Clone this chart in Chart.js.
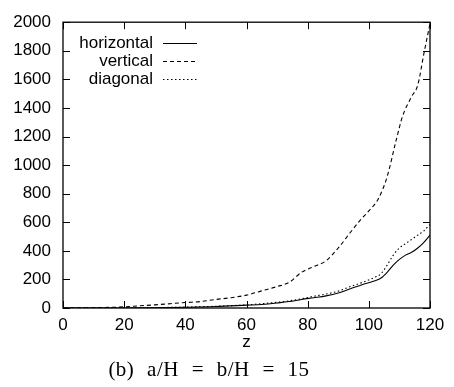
<!DOCTYPE html>
<html><head><meta charset="utf-8">
<script src="https://cdn.jsdelivr.net/npm/chart.js@4/dist/chart.umd.min.js"></script>
<style>html,body{margin:0;padding:0;background:#fff}#wrap{width:454px;height:387px;position:relative}</style>
</head><body><div id="wrap"><canvas id="c" width="454" height="387"></canvas></div>
<script>
const zValues = [0, 10, 20, 25, 30, 35, 40, 45, 50, 55, 60, 65, 70, 74, 78, 82, 86, 90, 94, 97, 100, 103, 106, 109, 111, 114, 116, 118, 120];
const verticalValues = [0, 2, 8, 15, 22, 30, 38, 45, 60, 72, 90, 120, 150, 180, 250, 290, 330, 420, 530, 610, 680, 760, 920, 1180, 1340, 1480, 1560, 1780, 1990];
const zValues2 = [0, 20, 30, 40, 50, 60, 65, 70, 74, 78, 82, 86, 90, 94, 98, 102, 104, 106, 108, 110, 112, 114, 116, 118, 120];
const horizontalValues = [0, 0, 2, 5, 10, 20, 25, 35, 45, 60, 72, 85, 105, 135, 165, 190, 210, 250, 300, 340, 370, 390, 420, 460, 510];
const diagonalValues = [0, 1, 3, 6, 12, 22, 30, 40, 50, 65, 82, 98, 118, 150, 180, 215, 240, 300, 370, 420, 450, 480, 510, 540, 585];
const seriesNames = ["horizontal", "vertical", "diagonal"];
const xTicks = [0, 20, 40, 60, 80, 100, 120];
const yTicks = [0, 200, 400, 600, 800, 1000, 1200, 1400, 1600, 1800, 2000];
const xTitle = "z";
const caption = "(b) a/H = b/H = 15";

const pts = (xs, ys) => xs.map((x, i) => ({x: x, y: ys[i]}));
const FONT = "'Liberation Sans', Arial, sans-serif";

const framePlugin = {
  id: 'frame',
  afterDraw(chart) {
    const ctx = chart.ctx, a = chart.chartArea;
    const xs = chart.scales.x, ys = chart.scales.y;
    ctx.save();
    ctx.strokeStyle = '#000';
    ctx.lineWidth = 1.3;
    ctx.setLineDash([]);
    ctx.strokeRect(a.left, a.top, a.right - a.left, a.bottom - a.top);
    ctx.lineWidth = 1;
    const tl = 7;
    xTicks.forEach(v => {
      const px = Math.round(xs.getPixelForValue(v)) + 0.5;
      ctx.beginPath();
      ctx.moveTo(px, a.bottom); ctx.lineTo(px, a.bottom - tl);
      ctx.moveTo(px, a.top); ctx.lineTo(px, a.top + tl);
      ctx.stroke();
    });
    yTicks.forEach(v => {
      const py = Math.round(ys.getPixelForValue(v)) + 0.5;
      ctx.beginPath();
      ctx.moveTo(a.left, py); ctx.lineTo(a.left + tl, py);
      ctx.moveTo(a.right, py); ctx.lineTo(a.right - tl, py);
      ctx.stroke();
    });
    // legend
    ctx.font = "17px " + FONT;
    ctx.fillStyle = '#000';
    ctx.textAlign = 'right';
    ctx.textBaseline = 'middle';
    chart.data.datasets.forEach((ds, i) => {
      const y = 43 + i * 18;
      ctx.fillText(ds.label, 153, y);
      ctx.beginPath();
      ctx.setLineDash(ds.borderDash || []);
      ctx.lineWidth = 1;
      ctx.moveTo(163, y + 0.5); ctx.lineTo(197, y + 0.5);
      ctx.stroke();
    });
    ctx.setLineDash([]);
    // caption
    ctx.font = "21px 'Liberation Serif', 'Times New Roman', serif";
    ctx.textAlign = 'center';
    try { ctx.letterSpacing = '0.5px'; ctx.wordSpacing = '7px'; } catch (e) {}
    ctx.fillText(caption, 209, 370);
    ctx.restore();
  }
};

new Chart(document.getElementById('c'), {
  type: 'line',
  data: {
    datasets: [
      {label: seriesNames[0], data: pts(zValues2, horizontalValues), borderColor: '#000', borderWidth: 1.1, borderDash: [], pointRadius: 0, tension: 0.3, cubicInterpolationMode: 'monotone', fill: false},
      {label: seriesNames[1], data: pts(zValues, verticalValues), borderColor: '#000', borderWidth: 1.1, borderDash: [4, 3], pointRadius: 0, tension: 0.3, cubicInterpolationMode: 'monotone', fill: false},
      {label: seriesNames[2], data: pts(zValues2, diagonalValues), borderColor: '#000', borderWidth: 1.1, borderDash: [1.5, 2.5], pointRadius: 0, tension: 0.3, cubicInterpolationMode: 'monotone', fill: false}
    ]
  },
  options: {
    responsive: false,
    animation: false,
    events: [],
    layout: {padding: {left: 0, right: 24, top: 14, bottom: 34}},
    plugins: {legend: {display: false}, tooltip: {enabled: false}, title: {display: false}},
    scales: {
      x: {
        type: 'linear', min: 0, max: 120,
        afterBuildTicks: s => { s.ticks = xTicks.map(v => ({value: v})); },
        afterFit: s => { s.height = 45; },
        grid: {display: false, drawTicks: false},
        border: {display: false},
        ticks: {color: '#000', font: {family: FONT, size: 17}, padding: 7, maxRotation: 0, callback: v => String(v)},
        title: {display: true, text: xTitle, color: '#000', font: {family: FONT, size: 17}, padding: {top: 0, bottom: 0}}
      },
      y: {
        type: 'linear', min: 0, max: 2000,
        afterBuildTicks: s => { s.ticks = yTicks.map(v => ({value: v})); },
        afterFit: s => { s.width = 63; },
        grid: {display: false, drawTicks: false},
        border: {display: false},
        ticks: {color: '#000', font: {family: FONT, size: 17}, padding: 12, callback: v => String(v)}
      }
    }
  },
  plugins: [framePlugin]
});
</script>
</body></html>
